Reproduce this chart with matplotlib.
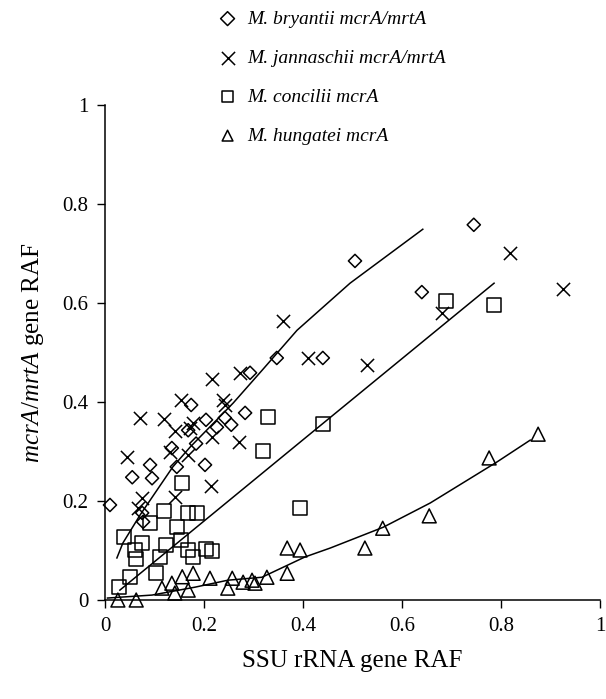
import matplotlib
matplotlib.use('Agg')
import matplotlib.pyplot as plt

plt.rcParams['font.family'] = 'Liberation Serif'
plt.rcParams['mathtext.fontset'] = 'custom'
plt.rcParams['mathtext.rm'] = 'Liberation Serif'
plt.rcParams['mathtext.it'] = 'Liberation Serif:italic'

# M. bryantii mcrA/mrtA (diamonds)
bry_x = [0.010, 0.075, 0.077, 0.055, 0.095, 0.091, 0.145, 0.202, 0.135, 0.184,
         0.168, 0.174, 0.204, 0.226, 0.242, 0.255, 0.283, 0.293, 0.347, 0.440,
         0.505, 0.640, 0.745]
bry_y = [0.192, 0.176, 0.158, 0.248, 0.246, 0.273, 0.269, 0.273, 0.307, 0.316,
         0.343, 0.394, 0.364, 0.349, 0.368, 0.354, 0.378, 0.459, 0.489, 0.489,
         0.685, 0.622, 0.758]

# M. jannaschii mcrA/mrtA (crosses)
jan_x = [0.044, 0.067, 0.075, 0.071, 0.119, 0.131, 0.141, 0.141, 0.154, 0.168,
         0.178, 0.172, 0.214, 0.216, 0.216, 0.238, 0.242, 0.271, 0.273, 0.360,
         0.410, 0.529, 0.681, 0.818, 0.925]
jan_y = [0.289, 0.186, 0.206, 0.368, 0.366, 0.299, 0.208, 0.341, 0.404, 0.293,
         0.358, 0.347, 0.230, 0.329, 0.446, 0.404, 0.394, 0.319, 0.459, 0.564,
         0.489, 0.475, 0.580, 0.701, 0.628]

# M. concilii mcrA (squares)
con_x = [0.028, 0.051, 0.038, 0.061, 0.063, 0.075, 0.091, 0.103, 0.111, 0.119,
         0.123, 0.145, 0.154, 0.156, 0.168, 0.168, 0.178, 0.186, 0.204, 0.216,
         0.319, 0.329, 0.394, 0.440, 0.689, 0.786]
con_y = [0.026, 0.047, 0.127, 0.101, 0.083, 0.115, 0.156, 0.055, 0.087, 0.180,
         0.111, 0.147, 0.121, 0.236, 0.175, 0.101, 0.087, 0.175, 0.103, 0.099,
         0.301, 0.370, 0.186, 0.356, 0.604, 0.596]

# M. hungatei mcrA (triangles)
hun_x = [0.026, 0.063, 0.115, 0.135, 0.141, 0.156, 0.168, 0.178, 0.212, 0.248,
         0.257, 0.279, 0.297, 0.303, 0.327, 0.368, 0.368, 0.394, 0.525, 0.561,
         0.655, 0.776, 0.875]
hun_y = [0.000, 0.000, 0.024, 0.034, 0.014, 0.047, 0.020, 0.054, 0.044, 0.024,
         0.044, 0.036, 0.040, 0.034, 0.046, 0.054, 0.105, 0.101, 0.105, 0.145,
         0.170, 0.287, 0.335]

# fitted curves
fit1_x = [0.024, 0.036, 0.071, 0.105, 0.137, 0.172, 0.259, 0.319, 0.388, 0.495, 0.642]
fit1_y = [0.085, 0.115, 0.172, 0.222, 0.269, 0.309, 0.398, 0.466, 0.545, 0.640, 0.749]
fit2_x = [0.030, 0.404, 0.670, 0.786]
fit2_y = [0.020, 0.327, 0.545, 0.640]
fit3_x = [0.005, 0.095, 0.182, 0.248, 0.317, 0.404, 0.455, 0.562, 0.657, 0.792, 0.859]
fit3_y = [0.004, 0.010, 0.026, 0.040, 0.046, 0.087, 0.105, 0.147, 0.196, 0.279, 0.323]

fig = plt.figure(figsize=(6.06, 6.99), dpi=100)
ax = fig.add_axes([0.1733, 0.1416, 0.8168, 0.7082])

ax.plot(fit1_x, fit1_y, c='k', lw=1.1, clip_on=False)
ax.plot(fit2_x, fit2_y, c='k', lw=1.1, clip_on=False)
ax.plot(fit3_x, fit3_y, c='k', lw=1.1, clip_on=False)

kw = dict(facecolors='none', edgecolors='k', linewidths=1.1, clip_on=False, zorder=3)
ax.scatter(bry_x, bry_y, marker='D', s=45, label='M. bryantii mcrA/mrtA', **kw)
ax.scatter(jan_x, jan_y, marker='x', s=90, c='k', linewidths=1.1, clip_on=False,
           zorder=3, label='M. jannaschii mcrA/mrtA')
ax.scatter(con_x, con_y, marker='s', s=100, label='M. concilii mcrA', **kw)
ax.scatter(hun_x, hun_y, marker='^', s=100, label='M. hungatei mcrA', **kw)

ax.set_xlim(0, 1)
ax.set_ylim(0, 1)
ax.set_xticks([0, 0.2, 0.4, 0.6, 0.8, 1.0])
ax.set_xticklabels(['0', '0.2', '0.4', '0.6', '0.8', '1'])
ax.set_yticks([0, 0.2, 0.4, 0.6, 0.8, 1.0])
ax.set_yticklabels(['0', '0.2', '0.4', '0.6', '0.8', '1'])
ax.tick_params(direction='out', length=6, width=1, labelsize=15, pad=6)
for s in ['top', 'right']:
    ax.spines[s].set_visible(False)
for s in ['left', 'bottom']:
    ax.spines[s].set_linewidth(1.1)

ax.set_xlabel('SSU rRNA gene RAF', fontsize=18, labelpad=10)
ax.set_ylabel(r'$\mathit{mcrA/mrtA}$ gene RAF', fontsize=18, labelpad=12)

leg = fig.legend(loc='upper left', bbox_to_anchor=(0.337, 1.005), frameon=False,
                 prop={'family': 'Liberation Serif', 'style': 'italic', 'size': 14},
                 labelspacing=1.1, handletextpad=0.5, handlelength=1.0,
                 borderaxespad=0.3, scatterpoints=1)
for h, sz in zip(leg.legend_handles, [50, 90, 60, 60]):
    h.set_sizes([sz])

fig.savefig('out.png', dpi=100)
